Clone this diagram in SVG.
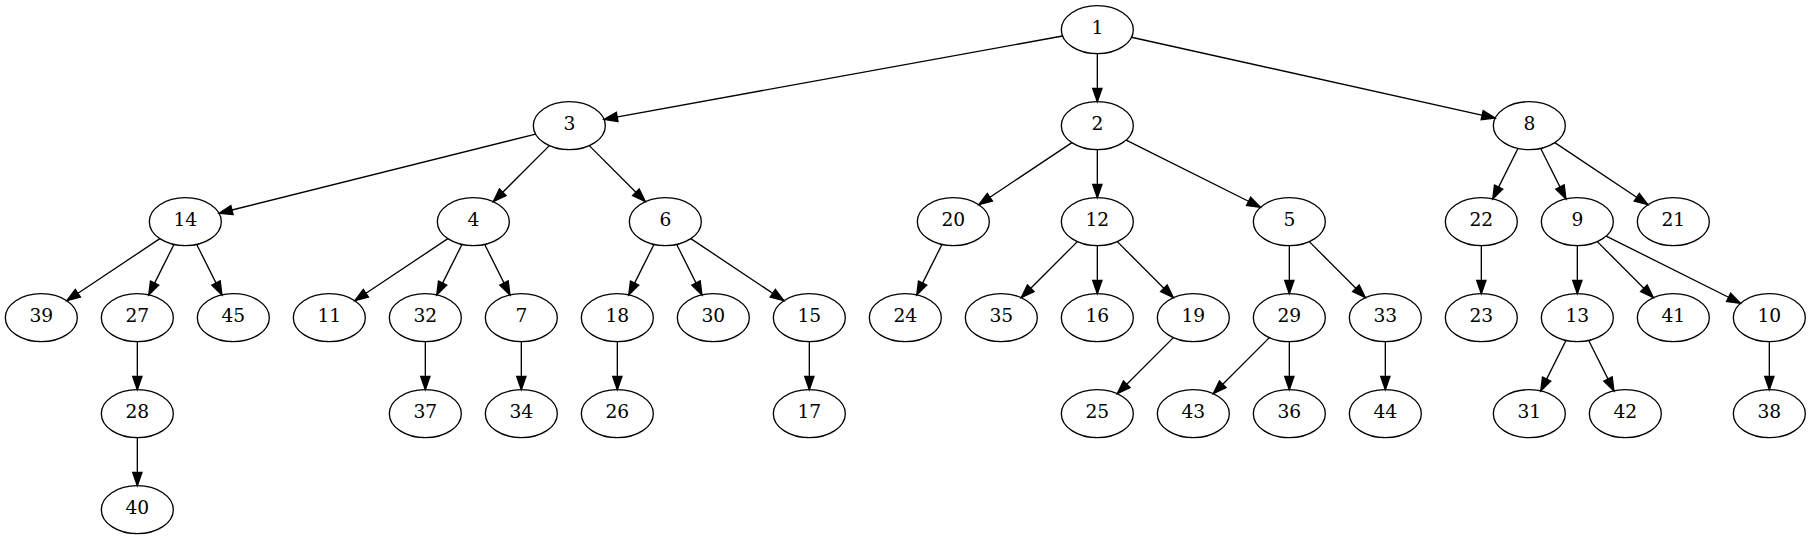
<svg xmlns="http://www.w3.org/2000/svg" width="1811" height="539" viewBox="0 0 1811 539">
<style>
.n ellipse{fill:none;stroke:#000;stroke-width:1.33}
.n text{font-family:"DejaVu Serif","Liberation Serif",serif;font-size:18.67px;text-anchor:middle;fill:#000}
#edges path{fill:none;stroke:#000;stroke-width:1.33;marker-end:url(#ah)}
</style>
<defs>
<marker id="ah" markerUnits="userSpaceOnUse" markerWidth="16" markerHeight="12" refX="13.33" refY="4.67" orient="auto" overflow="visible">
<path d="M0,0 L13.33,4.67 L0,9.33 z" fill="#000" stroke="#000" stroke-width="1.33"/>
</marker>
</defs>
<rect width="1811" height="539" fill="#fff"/>
<g id="edges">
<path d="M1062.6,35.99L604.06,119.35"/>
<path d="M1097.33,53.67L1097.33,101.67"/>
<path d="M1131.48,37.26L1495.18,118.08"/>
<path d="M535.62,134.1L219.04,213.24"/>
<path d="M549.36,145.64L493.3,201.7"/>
<path d="M589.3,145.64L645.36,201.7"/>
<path d="M1071.87,142.64L978.79,204.7"/>
<path d="M1097.33,149.67L1097.33,197.67"/>
<path d="M1126.13,140.07L1260.53,207.27"/>
<path d="M1517.95,148.44L1492.71,198.9"/>
<path d="M1540.71,148.44L1565.95,198.9"/>
<path d="M1554.79,142.64L1647.87,204.7"/>
<path d="M159.87,238.64L66.79,300.7"/>
<path d="M173.95,244.44L148.71,294.9"/>
<path d="M196.71,244.44L221.95,294.9"/>
<path d="M447.87,238.64L354.79,300.7"/>
<path d="M461.95,244.44L436.71,294.9"/>
<path d="M484.71,244.44L509.95,294.9"/>
<path d="M653.95,244.44L628.71,294.9"/>
<path d="M676.71,244.44L701.95,294.9"/>
<path d="M690.79,238.64L783.87,300.7"/>
<path d="M941.95,244.44L916.71,294.9"/>
<path d="M1077.36,241.64L1021.3,297.7"/>
<path d="M1097.33,245.67L1097.33,293.67"/>
<path d="M1117.3,241.64L1173.36,297.7"/>
<path d="M1289.33,245.67L1289.33,293.67"/>
<path d="M1309.3,241.64L1365.36,297.7"/>
<path d="M1481.33,245.67L1481.33,293.67"/>
<path d="M1577.33,245.67L1577.33,293.67"/>
<path d="M1597.3,241.64L1653.36,297.7"/>
<path d="M1606.13,236.07L1740.53,303.27"/>
<path d="M137.33,341.67L137.33,389.67"/>
<path d="M425.33,341.67L425.33,389.67"/>
<path d="M521.33,341.67L521.33,389.67"/>
<path d="M617.33,341.67L617.33,389.67"/>
<path d="M809.33,341.67L809.33,389.67"/>
<path d="M1173.36,337.64L1117.3,393.7"/>
<path d="M1269.36,337.64L1213.3,393.7"/>
<path d="M1289.33,341.67L1289.33,389.67"/>
<path d="M1385.33,341.67L1385.33,389.67"/>
<path d="M1565.95,340.44L1540.71,390.9"/>
<path d="M1588.71,340.44L1613.95,390.9"/>
<path d="M1769.33,341.67L1769.33,389.67"/>
<path d="M137.33,437.67L137.33,485.67"/>
</g>
<g id="n1" class="n"><ellipse cx="1097.33" cy="29.67" rx="36" ry="24"/><text x="1097.33" y="34.4">1</text></g>
<g id="n3" class="n"><ellipse cx="569.33" cy="125.67" rx="36" ry="24"/><text x="569.33" y="130.4">3</text></g>
<g id="n2" class="n"><ellipse cx="1097.33" cy="125.67" rx="36" ry="24"/><text x="1097.33" y="130.4">2</text></g>
<g id="n8" class="n"><ellipse cx="1529.33" cy="125.67" rx="36" ry="24"/><text x="1529.33" y="130.4">8</text></g>
<g id="n14" class="n"><ellipse cx="185.33" cy="221.67" rx="36" ry="24"/><text x="185.33" y="226.4">14</text></g>
<g id="n4" class="n"><ellipse cx="473.33" cy="221.67" rx="36" ry="24"/><text x="473.33" y="226.4">4</text></g>
<g id="n6" class="n"><ellipse cx="665.33" cy="221.67" rx="36" ry="24"/><text x="665.33" y="226.4">6</text></g>
<g id="n20" class="n"><ellipse cx="953.33" cy="221.67" rx="36" ry="24"/><text x="953.33" y="226.4">20</text></g>
<g id="n12" class="n"><ellipse cx="1097.33" cy="221.67" rx="36" ry="24"/><text x="1097.33" y="226.4">12</text></g>
<g id="n5" class="n"><ellipse cx="1289.33" cy="221.67" rx="36" ry="24"/><text x="1289.33" y="226.4">5</text></g>
<g id="n22" class="n"><ellipse cx="1481.33" cy="221.67" rx="36" ry="24"/><text x="1481.33" y="226.4">22</text></g>
<g id="n9" class="n"><ellipse cx="1577.33" cy="221.67" rx="36" ry="24"/><text x="1577.33" y="226.4">9</text></g>
<g id="n21" class="n"><ellipse cx="1673.33" cy="221.67" rx="36" ry="24"/><text x="1673.33" y="226.4">21</text></g>
<g id="n39" class="n"><ellipse cx="41.33" cy="317.67" rx="36" ry="24"/><text x="41.33" y="322.4">39</text></g>
<g id="n27" class="n"><ellipse cx="137.33" cy="317.67" rx="36" ry="24"/><text x="137.33" y="322.4">27</text></g>
<g id="n45" class="n"><ellipse cx="233.33" cy="317.67" rx="36" ry="24"/><text x="233.33" y="322.4">45</text></g>
<g id="n11" class="n"><ellipse cx="329.33" cy="317.67" rx="36" ry="24"/><text x="329.33" y="322.4">11</text></g>
<g id="n32" class="n"><ellipse cx="425.33" cy="317.67" rx="36" ry="24"/><text x="425.33" y="322.4">32</text></g>
<g id="n7" class="n"><ellipse cx="521.33" cy="317.67" rx="36" ry="24"/><text x="521.33" y="322.4">7</text></g>
<g id="n18" class="n"><ellipse cx="617.33" cy="317.67" rx="36" ry="24"/><text x="617.33" y="322.4">18</text></g>
<g id="n30" class="n"><ellipse cx="713.33" cy="317.67" rx="36" ry="24"/><text x="713.33" y="322.4">30</text></g>
<g id="n15" class="n"><ellipse cx="809.33" cy="317.67" rx="36" ry="24"/><text x="809.33" y="322.4">15</text></g>
<g id="n24" class="n"><ellipse cx="905.33" cy="317.67" rx="36" ry="24"/><text x="905.33" y="322.4">24</text></g>
<g id="n35" class="n"><ellipse cx="1001.33" cy="317.67" rx="36" ry="24"/><text x="1001.33" y="322.4">35</text></g>
<g id="n16" class="n"><ellipse cx="1097.33" cy="317.67" rx="36" ry="24"/><text x="1097.33" y="322.4">16</text></g>
<g id="n19" class="n"><ellipse cx="1193.33" cy="317.67" rx="36" ry="24"/><text x="1193.33" y="322.4">19</text></g>
<g id="n29" class="n"><ellipse cx="1289.33" cy="317.67" rx="36" ry="24"/><text x="1289.33" y="322.4">29</text></g>
<g id="n33" class="n"><ellipse cx="1385.33" cy="317.67" rx="36" ry="24"/><text x="1385.33" y="322.4">33</text></g>
<g id="n23" class="n"><ellipse cx="1481.33" cy="317.67" rx="36" ry="24"/><text x="1481.33" y="322.4">23</text></g>
<g id="n13" class="n"><ellipse cx="1577.33" cy="317.67" rx="36" ry="24"/><text x="1577.33" y="322.4">13</text></g>
<g id="n41" class="n"><ellipse cx="1673.33" cy="317.67" rx="36" ry="24"/><text x="1673.33" y="322.4">41</text></g>
<g id="n10" class="n"><ellipse cx="1769.33" cy="317.67" rx="36" ry="24"/><text x="1769.33" y="322.4">10</text></g>
<g id="n28" class="n"><ellipse cx="137.33" cy="413.67" rx="36" ry="24"/><text x="137.33" y="418.4">28</text></g>
<g id="n37" class="n"><ellipse cx="425.33" cy="413.67" rx="36" ry="24"/><text x="425.33" y="418.4">37</text></g>
<g id="n34" class="n"><ellipse cx="521.33" cy="413.67" rx="36" ry="24"/><text x="521.33" y="418.4">34</text></g>
<g id="n26" class="n"><ellipse cx="617.33" cy="413.67" rx="36" ry="24"/><text x="617.33" y="418.4">26</text></g>
<g id="n17" class="n"><ellipse cx="809.33" cy="413.67" rx="36" ry="24"/><text x="809.33" y="418.4">17</text></g>
<g id="n25" class="n"><ellipse cx="1097.33" cy="413.67" rx="36" ry="24"/><text x="1097.33" y="418.4">25</text></g>
<g id="n43" class="n"><ellipse cx="1193.33" cy="413.67" rx="36" ry="24"/><text x="1193.33" y="418.4">43</text></g>
<g id="n36" class="n"><ellipse cx="1289.33" cy="413.67" rx="36" ry="24"/><text x="1289.33" y="418.4">36</text></g>
<g id="n44" class="n"><ellipse cx="1385.33" cy="413.67" rx="36" ry="24"/><text x="1385.33" y="418.4">44</text></g>
<g id="n31" class="n"><ellipse cx="1529.33" cy="413.67" rx="36" ry="24"/><text x="1529.33" y="418.4">31</text></g>
<g id="n42" class="n"><ellipse cx="1625.33" cy="413.67" rx="36" ry="24"/><text x="1625.33" y="418.4">42</text></g>
<g id="n38" class="n"><ellipse cx="1769.33" cy="413.67" rx="36" ry="24"/><text x="1769.33" y="418.4">38</text></g>
<g id="n40" class="n"><ellipse cx="137.33" cy="509.67" rx="36" ry="24"/><text x="137.33" y="514.4">40</text></g>
</svg>
